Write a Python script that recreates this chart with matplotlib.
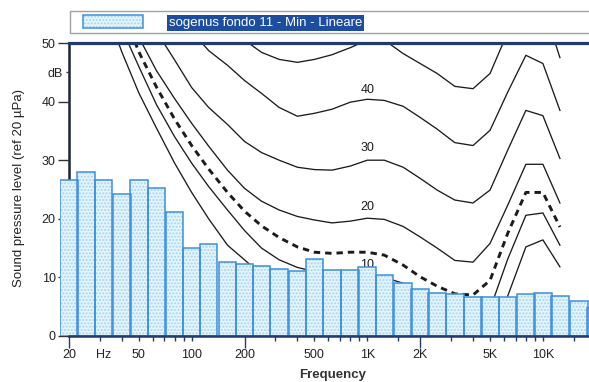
import numpy as np
import matplotlib.pyplot as plt
from matplotlib.ticker import NullFormatter
from matplotlib.legend_handler import HandlerTuple

plt.rcParams['font.family'] = ['Liberation Sans', 'DejaVu Sans']

# 1/3 octave band spectrum (dB)
band_hz = [20, 25, 31.5, 40, 50, 63, 80, 100, 125, 160, 200, 250, 315, 400, 500, 630,
           800, 1000, 1250, 1600, 2000, 2500, 3150, 4000, 5000, 6300, 8000, 10000,
           12500, 16000, 20000]
band_db = [26.6, 28.0, 26.6, 24.3, 26.7, 25.3, 21.2, 15.1, 15.7, 12.7, 12.3, 11.9, 11.5,
           11.1, 13.1, 11.2, 11.2, 11.7, 10.4, 9.1, 8.1, 7.4, 7.1, 6.6, 6.7, 6.6, 7.2,
           7.4, 6.9, 6.0, 4.8]

# equal loudness contours (dB at each frequency)
curve_hz = [31.5, 40, 50, 63, 80, 100, 125, 160, 200, 250, 315, 400, 500, 630, 800,
            1000, 1250, 1600, 2000, 2500, 3150, 4000, 5000, 6300, 8000, 10000, 12500]
maf = [57, 48.5, 41.5, 35.5, 29.5, 24.5, 20, 15.5, 13, 10.5, 8.5, 7, 6, 5, 4.5,
       4.3, 4, 3, 0, -2, -4, -4.5, -3, 6.8, 15.2, 16.4, 11.8]
phon10 = [62, 52.5, 46, 39.5, 34, 29.5, 25.5, 21.5, 18, 15, 13, 11.7, 11, 10.3, 10,
          10, 10, 9, 7, 5, 3.5, 3, 4.6, 13.1, 20.6, 21.0, 15.5]
dashed = [65, 56, 48.5, 42.5, 37, 32.5, 28.5, 24.5, 21.3, 18.8, 16.8, 15.2, 14.3, 14.1, 14.3,
          14.3, 13.8, 12.1, 10.1, 8.5, 7.2, 7.0, 9.5, 17.5, 24.5, 24.5, 18.6]
phon20 = [68, 58, 51, 45.3, 40.5, 36.3, 32.4, 28.3, 25.2, 23.0, 21.5, 20.4, 19.8, 19.3, 19.6,
          20.1, 19.9, 18.7, 16.9, 15.0, 12.9, 12.6, 15.8, 22.3, 29.3, 29.3, 22.7]
phon30 = [75, 65, 57, 52, 47.1, 42.4, 39.0, 36.1, 33.2, 31.3, 30.0, 28.8, 28.4, 28.3, 29.0,
          30.0, 30.0, 28.8, 26.9, 24.9, 23.2, 22.7, 24.9, 31.7, 38.5, 37.6, 30.3]
phon40 = [82, 75, 69, 63, 57, 52, 48.7, 46.2, 43.6, 41.4, 39.0, 37.5, 38.0, 38.7, 39.9,
          40.4, 40.2, 39.2, 37.3, 35.3, 33.0, 32.5, 35.1, 41.6, 47.9, 46.5, 38.5]
phon50 = [88, 82, 76, 71, 66, 61, 57, 53.5, 50.5, 48.4, 47.2, 46.7, 47.2, 48.0, 49.2,
          50.5, 50.5, 48.2, 46.5, 44.8, 42.6, 42.2, 44.8, 51.8, 57.5, 56.5, 47.5]

curve_labels = ['MAF', '10', '20', '30', '40']
label_db = [6.3, 12.1, 22.0, 32.0, 41.9]

xtick_hz = [20, 31.5, 50, 100, 200, 500, 1000, 2000, 5000, 10000]
xtick_txt = ['20', 'Hz', '50', '100', '200', '500', '1K', '2K', '5K', '10K']
xminor_hz = [30, 40, 60, 70, 80, 90, 300, 400, 600, 700, 800, 900, 1500,
             3000, 4000, 6000, 7000, 8000, 9000, 15000]

fig = plt.figure(figsize=(5.89, 3.82), dpi=100)
ax = fig.add_axes([60 / 589, 46 / 382, 529 / 589, 293 / 382])
ax.set_xscale('log')
ax.set_xlim(17.8, 18300)
ax.set_ylim(0, 50)

# contours
ink = '#1c1c1c'
for vals in [maf, phon10, phon20, phon30, phon40, phon50]:
    ax.plot(curve_hz, vals, color=ink, lw=0.95, zorder=2)
ax.plot(curve_hz, dashed, color=ink, lw=2.1, dashes=(2.2, 1.7), zorder=2)
for txt, v in zip(curve_labels, label_db):
    ax.text(1000, v, txt, ha='center', va='center', fontsize=9, color=ink, zorder=2)

# spectrum bars
lo = np.array(band_hz) * 10 ** -0.05
hi = np.array(band_hz) * 10 ** 0.05
fill = ax.bar(lo, band_db, width=hi - lo, align='edge', color='#e4f5fc',
              edgecolor='#a8d4ef', hatch='.....', linewidth=0, zorder=3)
edges = ax.bar(lo, band_db, width=hi - lo, align='edge', facecolor='none',
               edgecolor='#3d8fdc', linewidth=1.1, zorder=3.1)

# axes styling
ax.spines['right'].set_visible(False)
ax.spines['left'].set_position(('data', 20))
ax.spines['left'].set_color('#1b2233')
ax.spines['left'].set_linewidth(1.8)
ax.spines['left'].set_zorder(2)
for s in ['top', 'bottom']:
    ax.spines[s].set_bounds(20, 18300)
    ax.spines[s].set_color('#1f3b70')
    ax.spines[s].set_zorder(4)
ax.spines['top'].set_linewidth(2.3)
ax.spines['bottom'].set_linewidth(1.8)

ax.set_yticks([0, 10, 20, 30, 40, 50])
ax.set_yticks([45], ['dB'], minor=True)
ax.tick_params(axis='y', which='major', length=8, width=1, color='#333',
               labelsize=9, pad=1.5, labelcolor='#222')
ax.tick_params(axis='y', which='minor', length=2.5, width=1, color='#333',
               labelsize=9, pad=2, labelcolor='#222')
ax.yaxis.set_zorder(2)

ax.set_xticks(xtick_hz, xtick_txt)
ax.set_xticks(xminor_hz, minor=True)
ax.xaxis.set_minor_formatter(NullFormatter())
ax.tick_params(axis='x', which='both', length=3.6, width=1, color='#1f3b70',
               labelsize=9, pad=5.5, labelcolor='#222')
ax.xaxis.set_zorder(4)
ticks = ax.xaxis.get_major_ticks()
for i in [0, 4, 7]:
    ticks[i].tick1line.set_markersize(8.5)
ticks[1].tick1line.set_visible(False)

ax.set_xlabel('Frequency', fontsize=9.5, fontweight='bold', color='#333')
ax.xaxis.set_label_coords((333 - 60) / 529, -33 / 293)
ax.xaxis.label.set_va('top')
fig.text(19 / 589, (382 - 188) / 382, 'Sound pressure level (ref 20 \u00b5Pa)',
         rotation=90, ha='center', va='center', fontsize=9.5, color='#222')

leg = fig.legend(handles=[(fill, edges)], labels=['sogenus fondo 11 - Min - Lineare'],
                 handler_map={tuple: HandlerTuple(ndivide=1, pad=0, xpad=0.68)},
                 loc='lower left', bbox_to_anchor=(70 / 589, 349 / 382, 0.9, 0.055),
                 mode='expand', borderaxespad=0, frameon=True, fancybox=False,
                 edgecolor='#8a8a8a', fontsize=9.5, handlelength=5.2,
                 handleheight=1.05, handletextpad=2.0, borderpad=0.3)
leg.get_frame().set_linewidth(1.0)
t = leg.get_texts()[0]
t.set_color('white')
t.set_bbox(dict(boxstyle='square,pad=0.15', facecolor='#1d4d9e', edgecolor='none'))

fig.savefig('out.png', dpi=100)
